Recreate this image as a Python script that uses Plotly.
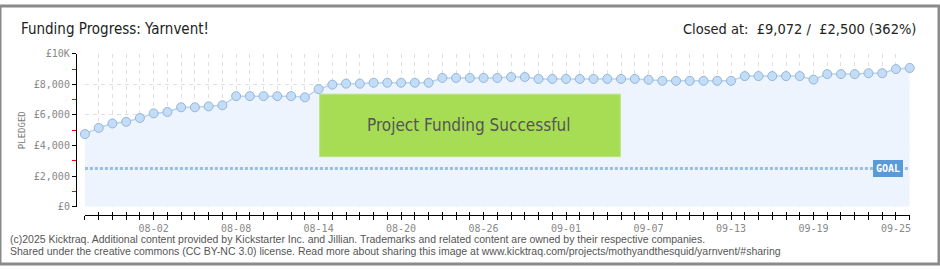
import plotly.graph_objects as go

dates = [
    "2025-07-28", "2025-07-29", "2025-07-30", "2025-07-31", "2025-08-01", "2025-08-02",
    "2025-08-03", "2025-08-04", "2025-08-05", "2025-08-06", "2025-08-07", "2025-08-08",
    "2025-08-09", "2025-08-10", "2025-08-11", "2025-08-12", "2025-08-13", "2025-08-14",
    "2025-08-15", "2025-08-16", "2025-08-17", "2025-08-18", "2025-08-19", "2025-08-20",
    "2025-08-21", "2025-08-22", "2025-08-23", "2025-08-24", "2025-08-25", "2025-08-26",
    "2025-08-27", "2025-08-28", "2025-08-29", "2025-08-30", "2025-08-31", "2025-09-01",
    "2025-09-02", "2025-09-03", "2025-09-04", "2025-09-05", "2025-09-06", "2025-09-07",
    "2025-09-08", "2025-09-09", "2025-09-10", "2025-09-11", "2025-09-12", "2025-09-13",
    "2025-09-14", "2025-09-15", "2025-09-16", "2025-09-17", "2025-09-18", "2025-09-19",
    "2025-09-20", "2025-09-21", "2025-09-22", "2025-09-23", "2025-09-24", "2025-09-25",
    "2025-09-26",
]
pledged = [
    4750, 5150, 5440, 5550, 5800, 6100, 6190, 6500, 6500, 6560, 6630,
    7230, 7230, 7230, 7230, 7230, 7150, 7690, 7980, 8045, 8045,
    8105, 8105, 8105, 8105, 8105,
    8420, 8420, 8420, 8420, 8420,
    8480, 8480,
    8355, 8355, 8355, 8355, 8355, 8355, 8355, 8355,
    8300,
    8230, 8230, 8230, 8230, 8230, 8230,
    8540, 8540, 8540, 8540, 8540,
    8310,
    8670, 8670, 8670,
    8730, 8730,
    9000, 9072,
]
goal = 2500
y_tickvals = [0, 2000, 4000, 6000, 8000, 10000]
y_ticktext = ["£0", "£2,000", "£4,000", "£6,000", "£8,000", "£10K"]
y_minorvals = [1000, 3000, 5000, 7000, 9000]
x_major_tick0 = "2025-08-02"

title_text = "Funding Progress: Yarnvent!"
closed_text = "Closed at:  £9,072 /  £2,500 (362%)"
banner_text = "Project Funding Successful"
footer1 = ("(c)2025 Kicktraq. Additional content provided by Kickstarter Inc. and Jillian. "
           "Trademarks and related content are owned by their respective companies.")
footer2 = ("Shared under the creative commons (CC BY-NC 3.0) license. Read more about sharing "
           "this image at www.kicktraq.com/projects/mothyandthesquid/yarnvent/#sharing")

W, H = 940, 270
def px(x):
    return x / W
def py(y):
    return (H - y) / H

DAY = 86400000
TFONT = "DejaVu Sans Condensed, Roboto, sans-serif"
MONO = "DejaVu Sans Mono, monospace"
FFONT = "Liberation Sans, Arial, sans-serif"

fig = go.Figure()
fig.add_trace(go.Scatter(
    x=dates, y=pledged, mode="lines+markers",
    line=dict(color="#b7d4f1", width=1.5),
    marker=dict(size=9, color="#c4ddf6", line=dict(color="#94b5da", width=1)),
    fill="tozeroy", fillcolor="#edf4fd",
    cliponaxis=False, showlegend=False, hoverinfo="skip",
))
fig.add_trace(go.Scatter(
    x=[dates[0], dates[-1]], y=[goal, goal], mode="lines",
    line=dict(color="#98bde6", width=3, dash="3px,2px"),
    showlegend=False, hoverinfo="skip",
))
# invisible trace so the overlaid tick axis is drawn
fig.add_trace(go.Scatter(x=[dates[0]], y=[0], xaxis="x2", mode="markers",
                         marker=dict(opacity=0), showlegend=False, hoverinfo="skip"))

x_dom = [px(85), px(910.7)]
y_dom = [py(210), py(50)]

fig.update_layout(
    width=W, height=H,
    margin=dict(l=0, r=0, t=0, b=0),
    paper_bgcolor="white", plot_bgcolor="white",
    xaxis=dict(
        domain=x_dom, anchor="free", position=py(219),
        range=[dates[0], dates[-1]], type="date",
        tick0=x_major_tick0, dtick=6 * DAY, tickformat="%m-%d",
        ticks="outside", ticklen=4, tickcolor="black", tickwidth=1,
        showline=True, linecolor="black", linewidth=1,
        showgrid=True, gridcolor="#e0e0e0", griddash="4px,4px", gridwidth=1,
        tickfont=dict(family=MONO, size=10, color="#888"),
        minor=dict(dtick=DAY, ticks="outside", ticklen=4, tickcolor="black",
                   showgrid=True, gridcolor="#e0e0e0", griddash="4px,4px"),
        zeroline=False, fixedrange=True,
    ),
    xaxis2=dict(
        domain=x_dom, anchor="free", position=py(219), overlaying="x",
        range=[dates[0], dates[-1]], type="date",
        tick0=x_major_tick0, dtick=DAY, ticks="inside", ticklen=3,
        tickcolor="black", showticklabels=False, showgrid=False,
        showline=False, zeroline=False, fixedrange=True,
    ),
    yaxis=dict(
        domain=y_dom, anchor="free", position=px(76),
        range=[0, 10000], tickmode="array",
        tickvals=y_tickvals, ticktext=y_ticktext,
        ticks="outside", ticklen=4, tickcolor="black",
        showline=True, linecolor="black", linewidth=1,
        showgrid=True, gridcolor="#e0e0e0", griddash="4px,4px",
        tickfont=dict(family=MONO, size=10, color="#888"),
        minor=dict(tickmode="array", tickvals=y_minorvals, ticks="outside",
                   ticklen=4, tickcolor="red", showgrid=False),
        zeroline=False, fixedrange=True,
    ),
)

shapes = [
    dict(type="rect", xref="paper", yref="paper",
         x0=px(320), x1=px(621), y0=py(157.7), y1=py(92.3),
         fillcolor="#a6dd55", line=dict(color="#b9e67a", width=1), layer="above"),
    dict(type="rect", xref="paper", yref="paper",
         x0=0, x1=1, y0=0, y1=1,
         fillcolor="rgba(0,0,0,0)", line=dict(color="#8a8a8a", width=3), layer="above"),
]
fig.update_layout(shapes=shapes)

ann = [
    dict(text=title_text, xref="paper", yref="paper", x=px(19), y=py(24),
         xanchor="left", yanchor="middle", showarrow=False,
         font=dict(family=TFONT, size=15, color="#222")),
    dict(text=closed_text, xref="paper", yref="paper", x=px(919), y=py(24),
         xanchor="right", yanchor="middle", showarrow=False,
         font=dict(family=TFONT, size=14.5, color="#222")),
    dict(text=banner_text, xref="paper", yref="paper", x=px(469), y=py(125),
         xanchor="center", yanchor="middle", showarrow=False,
         font=dict(family=TFONT, size=17, color="#555")),
    dict(text="PLEDGED", xref="paper", yref="paper", x=px(22), y=py(130),
         xanchor="center", yanchor="middle", showarrow=False, textangle=-90,
         font=dict(family=MONO, size=9, color="#777")),
    dict(text="<b>GOAL</b>", xref="paper", y=goal, yref="y", x=px(888.5),
         xanchor="center", yanchor="middle", showarrow=False,
         bgcolor="#5b9ad9", borderpad=2, bordercolor="#5b9ad9",
         font=dict(family=MONO, size=10, color="white")),
    dict(text=footer1, xref="paper", yref="paper", x=px(8), y=py(244),
         xanchor="left", yanchor="middle", showarrow=False,
         font=dict(family=FFONT, size=10.5, color="#555")),
    dict(text=footer2, xref="paper", yref="paper", x=px(8), y=py(256),
         xanchor="left", yanchor="middle", showarrow=False,
         font=dict(family=FFONT, size=10.5, color="#555")),
]
fig.update_layout(annotations=ann)

fig.write_html(
    "out.html",
    post_script="document.body.style.margin='0';document.body.style.overflow='hidden';",
)
